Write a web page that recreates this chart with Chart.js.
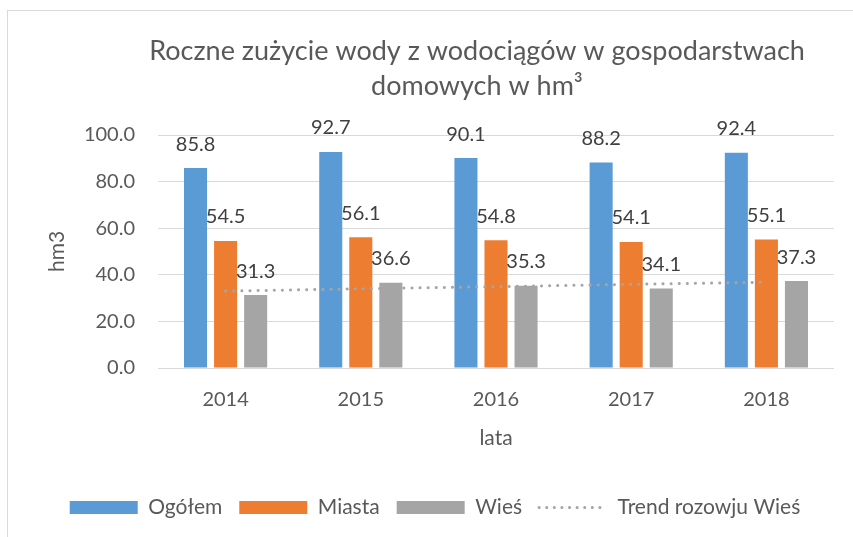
<!DOCTYPE html>
<html lang="pl">
<head>
<meta charset="utf-8">
<title>Roczne zużycie wody z wodociągów</title>
<script src="https://cdn.jsdelivr.net/npm/chart.js@4/dist/chart.umd.min.js"></script>
<style>
  html, body { margin: 0; padding: 0; background: #fff; overflow: hidden; }
  #frame { position: absolute; left: 7px; top: 10px; width: 900px; height: 600px; border: 1px solid #d9d9d9; box-sizing: border-box; }
  #chart { position: absolute; left: 0; top: 0; }
</style>
</head>
<body>
<div id="frame"></div>
<canvas id="chart" width="853" height="537"></canvas>
<script>
// values
var years = ['2014', '2015', '2016', '2017', '2018'];
var ogolem = [85.8, 92.7, 90.1, 88.2, 92.4];
var miasta = [54.5, 56.1, 54.8, 54.1, 55.1];
var wies = [31.3, 36.6, 35.3, 34.1, 37.3];
var trendWies = [33.0, 34.0, 34.9, 35.9, 36.8];
var yTickLabels = ['0.0', '20.0', '40.0', '60.0', '80.0', '100.0'];

var FONT = 'Lato, "Open Sans", sans-serif';
var TEXT = '#595959';

// value labels above the bars
var barLabels = {
    id: 'barLabels',
    afterDatasetsDraw: function (chart) {
        var ctx = chart.ctx;
        ctx.save();
        ctx.font = '20px ' + FONT;
        ctx.fillStyle = '#404040';
        ctx.textAlign = 'center';
        ctx.textBaseline = 'middle';
        [0, 1, 2].forEach(function (i) {
            var meta = chart.getDatasetMeta(i);
            meta.data.forEach(function (bar, j) {
                ctx.fillText(chart.data.datasets[i].data[j].toFixed(1), bar.x, bar.y - 24);
            });
        });
        ctx.restore();
    }
};

// move title and legend to where the original had them
var placeBoxes = {
    id: 'placeBoxes',
    afterLayout: function (chart) {
        var t = chart.titleBlock;
        t.left = 101; t.right = 853; t.width = 752;
        var l = chart.legend;
        l.left = 17; l.right = 853; l.width = 836;
        l.top = 480;
    }
};

var ctx = document.getElementById('chart').getContext('2d');
var chart = new Chart(ctx, {
    type: 'bar',
    data: {
        labels: years,
        datasets: [
            { label: 'Ogółem', data: ogolem, backgroundColor: '#5b9bd5', borderWidth: 0, order: 1 },
            { label: 'Miasta', data: miasta, backgroundColor: '#ed7d31', borderWidth: 0, order: 1 },
            { label: 'Wieś', data: wies, backgroundColor: '#a5a5a5', borderWidth: 0, order: 1 },
            {
                type: 'line',
                label: 'Trend rozowju Wieś',
                data: trendWies,
                borderColor: '#a5a5a5',
                backgroundColor: 'rgba(0,0,0,0)',
                borderWidth: 3,
                borderDash: [0.1, 8],
                borderCapStyle: 'round',
                pointRadius: 0,
                fill: false,
                order: 0
            }
        ]
    },
    options: {
        responsive: false,
        animation: false,
        categoryPercentage: 0.667,
        barPercentage: 0.767,
        layout: { padding: { left: 0, right: 19, top: 0, bottom: 0 } },
        plugins: {
            tooltip: { enabled: false },
            title: {
                display: true,
                text: ['Roczne zużycie wody z wodociągów w gospodarstwach', 'domowych w hm³'],
                color: TEXT,
                font: { family: FONT, size: 27, weight: 'normal', lineHeight: 1.3 },
                padding: { top: 34, bottom: 30.8 }
            },
            legend: {
                position: 'bottom',
                labels: {
                    color: TEXT,
                    font: { family: FONT, size: 21 },
                    usePointStyle: true,
                    pointStyleWidth: 68,
                    boxHeight: 13,
                    padding: 17,
                    sort: function (a, b) { return a.datasetIndex - b.datasetIndex; },
                    generateLabels: function (chart) {
                        var items = Chart.defaults.plugins.legend.labels.generateLabels(chart);
                        items.forEach(function (it) {
                            if (it.datasetIndex < 3) {
                                it.pointStyle = 'rect';
                                it.lineWidth = 0;
                            } else {
                                it.pointStyle = 'line';
                                it.lineWidth = 3;
                                it.lineDash = [0.1, 7.5];
                                it.lineCap = 'round';
                                it.strokeStyle = '#a5a5a5';
                            }
                        });
                        return items;
                    }
                }
            }
        },
        scales: {
            x: {
                grid: { display: false },
                border: { display: false },
                ticks: { color: TEXT, font: { family: FONT, size: 20 }, padding: 12 },
                title: {
                    display: true,
                    text: 'lata',
                    color: TEXT,
                    font: { family: FONT, size: 21 },
                    padding: { top: 0, bottom: 38 }
                },
                afterFit: function (scale) { scale.height = 121; }
            },
            y: {
                min: 0,
                max: 100,
                ticks: {
                    stepSize: 20,
                    color: TEXT,
                    font: { family: FONT, size: 20 },
                    padding: 23,
                    callback: function (v, i) { return yTickLabels[i]; }
                },
                grid: { color: '#d9d9d9', drawTicks: false },
                border: { display: false },
                title: {
                    display: true,
                    text: 'hm3',
                    color: TEXT,
                    font: { family: FONT, size: 21 },
                    padding: { top: 45, bottom: 0 }
                },
                afterFit: function (scale) { scale.width = 158; }
            }
        }
    },
    plugins: [barLabels, placeBoxes]
});
</script>
</body>
</html>
